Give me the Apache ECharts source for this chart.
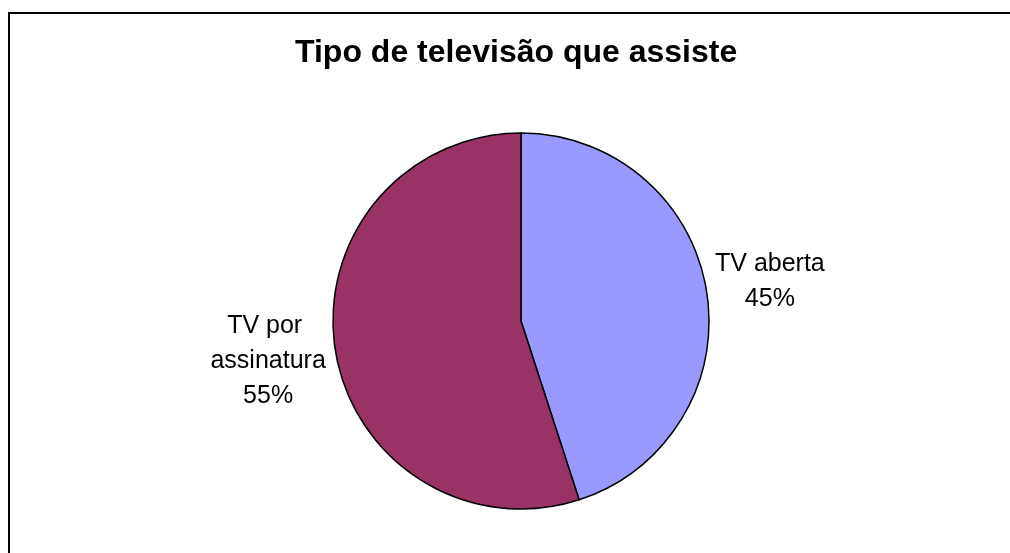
<!DOCTYPE html>
<html>
<head>
<meta charset="utf-8">
<script src="https://cdn.jsdelivr.net/npm/echarts@6/dist/echarts.min.js"></script>
<style>html,body{margin:0;padding:0;background:#fff}#c{width:1010px;height:553px}</style>
</head>
<body>
<div id="c"></div>
<script>
const titleText = 'Tipo de televisão que assiste';
const categories = ['TV aberta', 'TV por assinatura'];
const values = [45, 55];
const colors = ['#9999FF', '#993366'];

const FONT = '"Liberation Sans", Arial, sans-serif';
const CX = 521, CY = 321, R = 188, LABEL_R = 254;

const total = values.reduce((a, b) => a + b, 0);
function midAngle(i) {
  let before = 0;
  for (let k = 0; k < i; k++) before += values[k];
  const frac = (before + values[i] / 2) / total;
  return (90 - frac * 360) * Math.PI / 180;
}

const chart = echarts.init(document.getElementById('c'), null, {renderer: 'canvas'});
chart.setOption({
  backgroundColor: '#fff',
  animation: false,
  title: {
    text: titleText,
    left: 290,
    top: 32,
    textStyle: {fontFamily: FONT, fontSize: 32, fontWeight: 'bold', color: '#000'}
  },
  graphic: [{
    type: 'rect',
    shape: {x: 9, y: 13, width: 1010, height: 560},
    style: {fill: 'none', stroke: '#000', lineWidth: 2},
    silent: true
  }],
  series: [{
    type: 'pie',
    center: [CX, CY],
    radius: R,
    startAngle: 90,
    clockwise: true,
    silent: true,
    data: categories.map((n, i) => ({name: n, value: values[i], itemStyle: {color: colors[i]}})),
    itemStyle: {borderColor: '#000', borderWidth: 1.5},
    label: {
      show: true,
      position: 'outside',
      fontFamily: FONT,
      fontSize: 25,
      lineHeight: 35,
      color: '#000',
      align: 'center',
      width: 140,
      overflow: 'break',
      formatter: p => p.name + '\n' + Math.round(p.percent) + '%'
    },
    labelLine: {show: false},
    labelLayout: function (p) {
      const a = midAngle(p.dataIndex);
      return {
        x: CX + LABEL_R * Math.cos(a) - 2,
        y: CY - LABEL_R * Math.sin(a),
        align: 'center',
        verticalAlign: 'middle'
      };
    }
  }]
});
</script>
</body>
</html>
